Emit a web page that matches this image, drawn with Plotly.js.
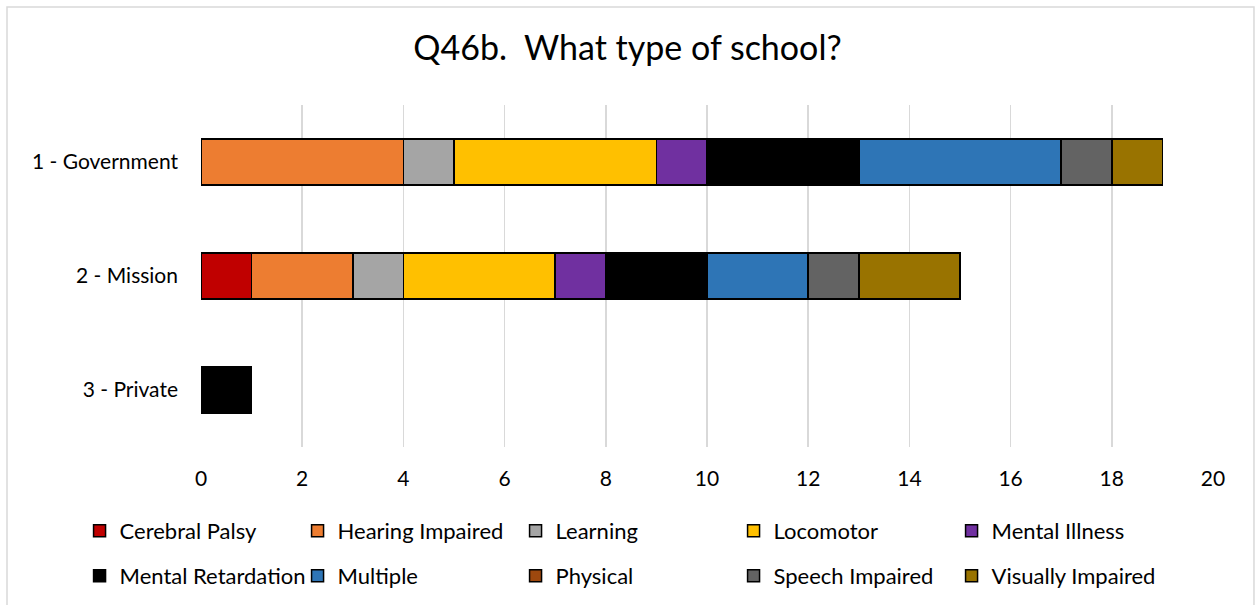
<!DOCTYPE html>
<html>
<head>
<meta charset="utf-8">
<script src="https://cdn.plot.ly/plotly-3.0.1.min.js"></script>
<style>html,body{margin:0;padding:0;background:#fff;}#chart{width:1255px;height:605px;}</style>
</head>
<body>
<div id="chart"></div>
<script>
const categories = ["1 - Government", "2 - Mission", "3 - Private"];
const seriesNames = ["Cerebral Palsy", "Hearing Impaired", "Learning", "Locomotor", "Mental Illness",
  "Mental Retardation", "Multiple", "Physical", "Speech Impaired", "Visually Impaired"];
const cerebralPalsy     = [0, 1, 0];
const hearingImpaired   = [4, 2, 0];
const learning          = [1, 1, 0];
const locomotor         = [4, 3, 0];
const mentalIllness     = [1, 1, 0];
const mentalRetardation = [3, 2, 1];
const multiple          = [4, 2, 0];
const physical          = [0, 0, 0];
const speechImpaired    = [1, 1, 0];
const visuallyImpaired  = [1, 2, 0];
const xTicks = [0, 2, 4, 6, 8, 10, 12, 14, 16, 18, 20];

const seriesValues = [cerebralPalsy, hearingImpaired, learning, locomotor, mentalIllness,
  mentalRetardation, multiple, physical, speechImpaired, visuallyImpaired];
const colors = ["#C00000", "#ED7D31", "#A5A5A5", "#FFC000", "#7030A0",
  "#000000", "#2E75B6", "#9E480E", "#636363", "#997300"];

const FONT = "Lato, 'Open Sans', sans-serif";

const traces = seriesNames.map((name, i) => ({
  type: "bar",
  orientation: "h",
  name: name,
  y: categories,
  x: seriesValues[i],
  legend: i < 5 ? "legend" : "legend2",
  marker: {color: colors[i], line: {color: "#000000", width: 1.5}},
  hoverinfo: "x+name"
}));

const legendBase = {
  orientation: "h",
  traceorder: "normal",
  xref: "paper", yref: "paper",
  x: -0.12, xanchor: "left",
  yanchor: "middle",
  entrywidth: 173,
  entrywidthmode: "pixels",
  font: {family: FONT, size: 22, color: "#000000"},
  itemclick: false,
  bgcolor: "rgba(0,0,0,0)"
};

const layout = {
  width: 1255,
  height: 605,
  paper_bgcolor: "#ffffff",
  plot_bgcolor: "#ffffff",
  barmode: "stack",
  bargap: 0.6,
  margin: {l: 201, r: 42, t: 105, b: 158, autoexpand: false},
  font: {family: FONT, size: 21, color: "#000000"},
  title: {
    text: "Q46b.\u00a0 What type of school?",
    x: 0.5, xref: "container", xanchor: "center",
    y: 0.92, yref: "container", yanchor: "middle",
    font: {family: FONT, size: 34, color: "#000000"}
  },
  xaxis: {
    range: [0, 20],
    tickvals: xTicks,
    ticktext: xTicks.map(String),
    showgrid: true,
    gridcolor: "#d9d9d9",
    gridwidth: 1.5,
    zeroline: false,
    showline: false,
    ticks: "",
    ticklabelstandoff: 17,
    tickfont: {family: FONT, size: 21, color: "#000000"},
    fixedrange: true
  },
  yaxis: {
    type: "category",
    categoryorder: "array",
    categoryarray: categories,
    autorange: "reversed",
    showgrid: false,
    zeroline: false,
    showline: false,
    ticks: "",
    ticklabelstandoff: 22,
    tickfont: {family: FONT, size: 21, color: "#000000"},
    fixedrange: true
  },
  legend: Object.assign({}, legendBase, {y: -0.2456}),
  legend2: Object.assign({}, legendBase, {y: -0.3772}),
  shapes: [{
    type: "rect", xref: "paper", yref: "paper",
    x0: -0.1917, x1: 1.0405, y0: -0.48, y1: 1.2865,
    line: {color: "#d9d9d9", width: 1.5},
    fillcolor: "rgba(0,0,0,0)",
    layer: "below"
  }],
  showlegend: true
};

Plotly.newPlot("chart", traces, layout, {displayModeBar: false, staticPlot: true});
</script>
</body>
</html>
